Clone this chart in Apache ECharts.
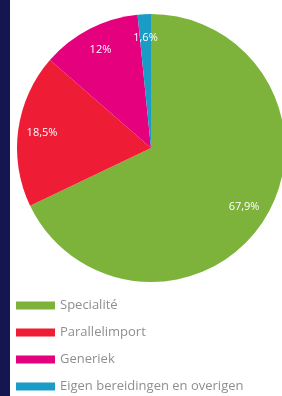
<!DOCTYPE html>
<html>
<head>
<meta charset="utf-8">
<script src="https://cdn.jsdelivr.net/npm/echarts@6/dist/echarts.min.js"></script>
<style>
  html, body { margin: 0; padding: 0; background: #ffffff; }
  #strip { position: absolute; left: 0; top: 0; width: 10px; height: 396px; background: #15154f; }
  #a { position: absolute; left: 0; top: 0; width: 282px; height: 396px; }
</style>
</head>
<body>
<div id="strip"></div>
<div id="a"></div>
<script>
// categorieen en aandelen (%)
var categories = ['Specialité', 'Parallelimport', 'Generiek', 'Eigen bereidingen en overigen'];
var shares = [67.9, 18.5, 12, 1.6];
var colors = ['#7db33b', '#ee1c34', '#e5007d', '#1b9cc6'];

var pieData = categories.map(function (c, i) {
  return { name: c, value: shares[i], itemStyle: { color: colors[i] } };
});

var myechart = echarts.init(document.getElementById('a'));
var option = {
  animation: false,
  legend: {
    orient: 'vertical',
    left: 16,
    top: 299,
    height: 110,
    padding: 0,
    itemWidth: 39,
    itemHeight: 8,
    itemGap: 14,
    icon: 'rect',
    textStyle: { color: '#8f8f8f', fontSize: 13, fontFamily: 'Open Sans' },
    data: categories
  },
  series: [
    {
      name: 'aandeel',
      type: 'pie',
      center: [151, 148],
      radius: 134,
      startAngle: 90,
      clockwise: true,
      label: { show: false },
      labelLine: { show: false },
      data: pieData
    },
    {
      // alleen voor de labels
      name: 'labels',
      type: 'pie',
      center: [151, 148],
      radius: [80, 134],
      startAngle: 90,
      silent: true,
      legendHoverLink: false,
      itemStyle: { color: 'transparent' },
      label: {
        show: true,
        position: 'inside',
        color: '#ffffff',
        fontSize: 11,
        fontFamily: 'Open Sans',
        formatter: function (p) { return String(p.value).replace('.', ',') + '%'; }
      },
      labelLine: { show: false },
      data: categories.map(function (c, i) { return { name: c + ' ', value: shares[i] }; })
    }
  ]
};
myechart.setOption(option);
</script>
</body>
</html>
